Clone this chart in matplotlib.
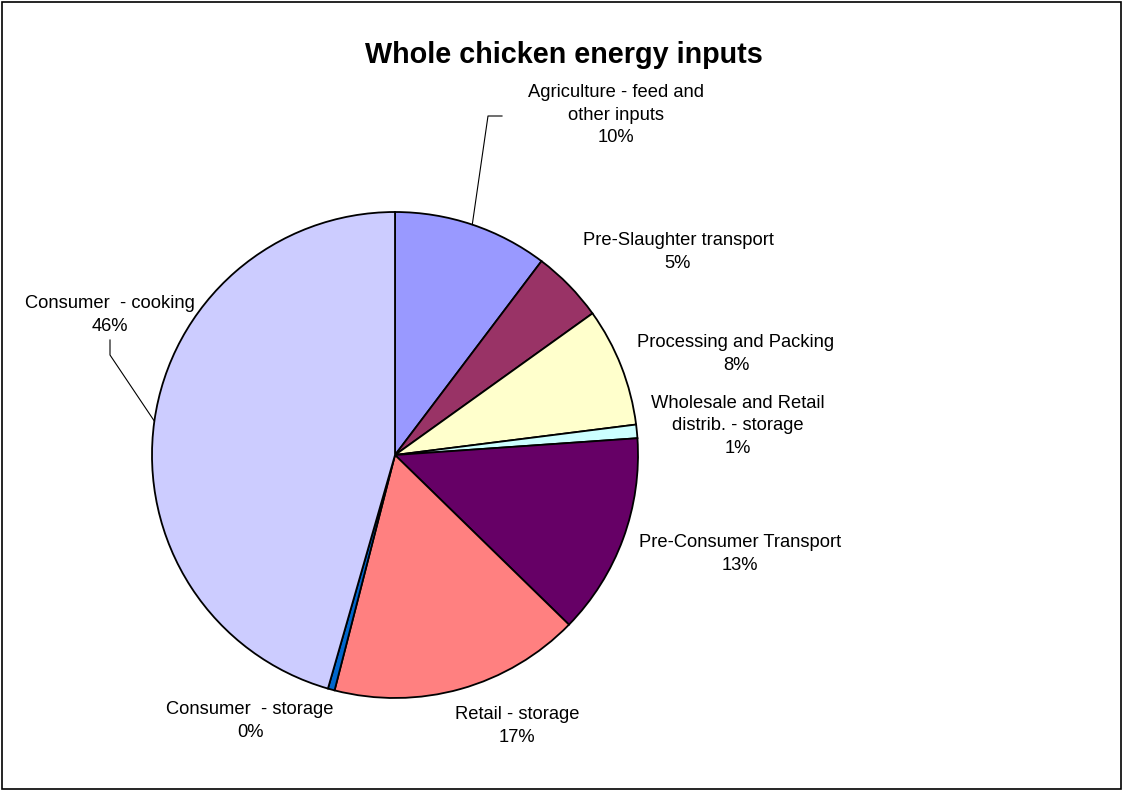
import matplotlib
matplotlib.use("Agg")
import matplotlib.pyplot as plt
import numpy as np
from matplotlib.patches import Rectangle

plt.rcParams['font.family'] = ['Liberation Sans', 'DejaVu Sans']

W, H = 1124, 792

categories = [
    "Agriculture - feed and\nother inputs",
    "Pre-Slaughter transport",
    "Processing and Packing",
    "Wholesale and Retail\ndistrib. - storage",
    "Pre-Consumer Transport",
    "Retail - storage",
    "Consumer  - storage",
    "Consumer  - cooking",
]
shares = [10.3, 4.8, 7.9, 0.9, 13.4, 16.7, 0.45, 45.55]
colors = ['#9999FF', '#993366', '#FFFFCC', '#CCFFFF',
          '#660066', '#FF8080', '#0066CC', '#CCCCFF']

# label block centres, in pixels from the top-left corner
label_xy = [(616, 115), (678, 252), (736, 354), (738, 426),
            (740, 554), (517, 726), (250, 721), (110, 315)]

centre = (395, H - 455)
radius = 243

fig = plt.figure(figsize=(W / 100, H / 100), dpi=100)
ax = fig.add_axes([0, 0, 1, 1])

wedges, _ = ax.pie(shares, colors=colors, startangle=90, counterclock=False,
                   center=centre, radius=radius,
                   wedgeprops=dict(edgecolor='black', linewidth=1.3))
ax.set_xlim(0, W)
ax.set_ylim(0, H)
ax.set_aspect('equal')
ax.axis('off')

total = sum(shares)
for name, val, (x, y) in zip(categories, shares, label_xy):
    pct = int(round(100 * val / total))
    ax.text(x, H - y, f"{name}\n{pct}%", ha='center', va='center',
            fontsize=13.2, linespacing=1.45, color='black')


def arc_point(w):
    mid = np.deg2rad((w.theta1 + w.theta2) / 2)
    return centre[0] + radius * np.cos(mid), centre[1] + radius * np.sin(mid)


# leader lines for the two labels placed away from their slices
ax0, ay0 = arc_point(wedges[0])
ax.plot([ax0, 488, 502], [ay0, H - 116, H - 116], color='black', lw=0.8)
ax7, ay7 = arc_point(wedges[7])
ax.plot([ax7, 110, 110], [ay7, H - 355, H - 340], color='black', lw=0.8)

ax.text(564, H - 55, "Whole chicken energy inputs", ha='center', va='center',
        fontsize=20.7, fontweight='bold')

ax.add_patch(Rectangle((2, 3), W - 5, H - 5, fill=False, edgecolor='black',
                       lw=1.2, clip_on=False))

fig.savefig("out.png", dpi=100)
